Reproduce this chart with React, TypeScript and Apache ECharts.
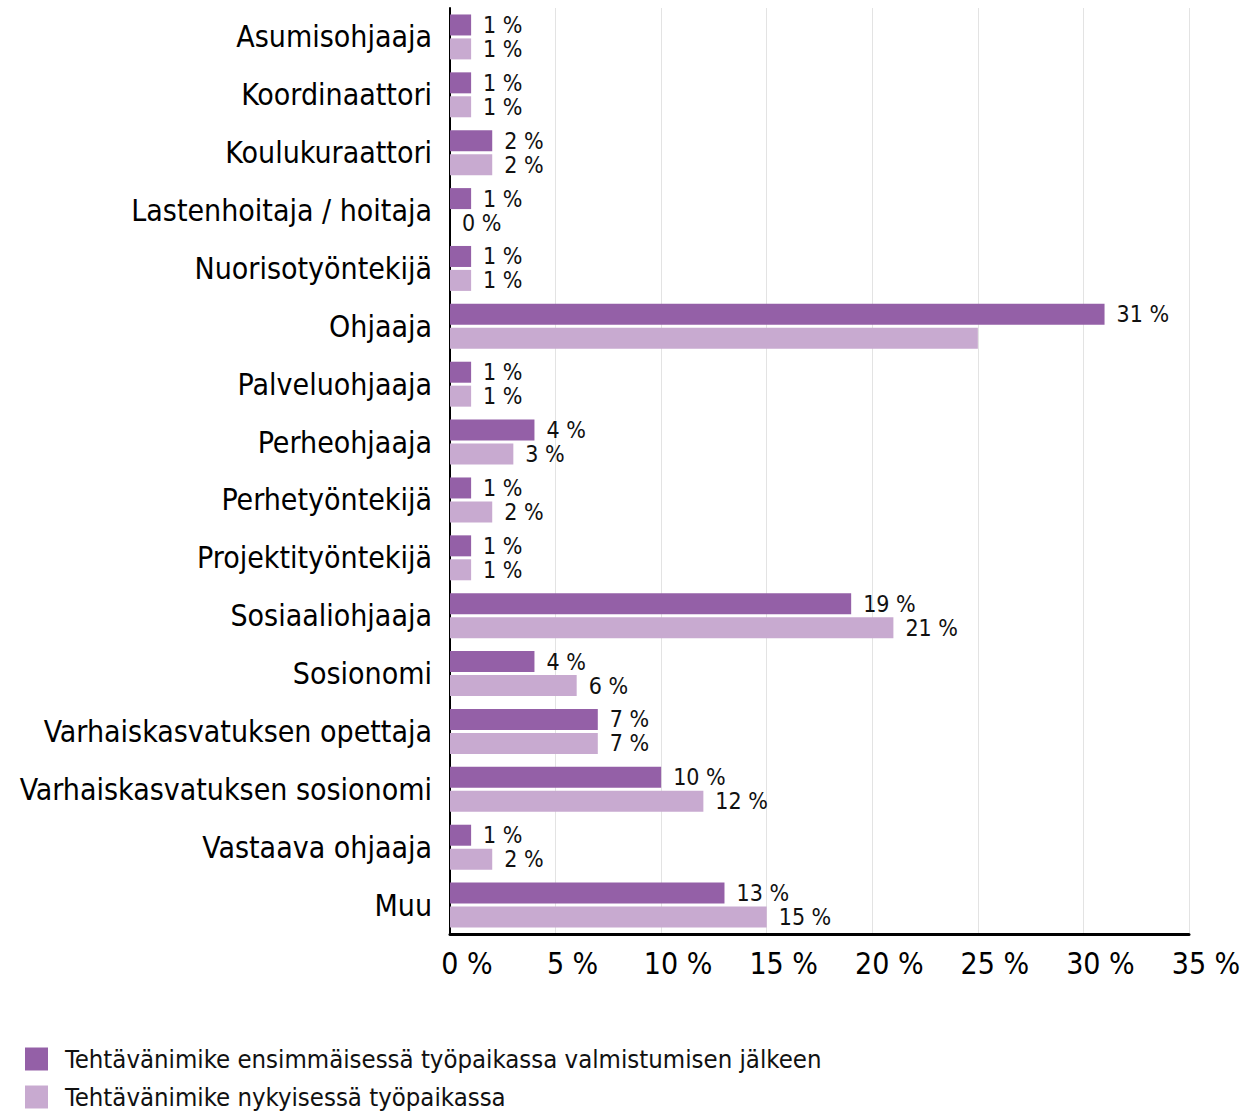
import React, { useEffect, useRef } from "react";
import * as echarts from "echarts";

const categories = [
  "Asumisohjaaja",
  "Koordinaattori",
  "Koulukuraattori",
  "Lastenhoitaja / hoitaja",
  "Nuorisotyöntekijä",
  "Ohjaaja",
  "Palveluohjaaja",
  "Perheohjaaja",
  "Perhetyöntekijä",
  "Projektityöntekijä",
  "Sosiaaliohjaaja",
  "Sosionomi",
  "Varhaiskasvatuksen opettaja",
  "Varhaiskasvatuksen sosionomi",
  "Vastaava ohjaaja",
  "Muu",
];
const seriesNames = [
  "Tehtävänimike ensimmäisessä työpaikassa valmistumisen jälkeen",
  "Tehtävänimike nykyisessä työpaikassa",
];
const firstJob = [1, 1, 2, 1, 1, 31, 1, 4, 1, 1, 19, 4, 7, 10, 1, 13];
const currentJob = [1, 1, 2, 0, 1, 25, 1, 3, 2, 1, 21, 6, 7, 12, 2, 15];
const hiddenLabelsCurrent = ["Ohjaaja"];
const xTicks = { min: 0, max: 35, interval: 5 };

const FONT = "'DejaVu Sans Condensed', 'Noto Sans', 'DejaVu Sans', sans-serif";

export default function App() {
  const ref = useRef<HTMLDivElement>(null);
  useEffect(() => {
    document.body.style.margin = "0";
    const chart = echarts.init(ref.current!, null, { renderer: "svg" });
    const valueLabel = {
      show: true,
      position: "right",
      distance: 12,
      color: "#111",
      fontSize: 23,
      fontFamily: FONT,
      formatter: (p: any) => `${p.value} %`,
    };
    const legendBase = {
      orient: "vertical",
      left: 25,
      padding: 0,
      icon: "rect",
      itemWidth: 23,
      itemHeight: 23,
      textStyle: { fontSize: 25.5, color: "#111", fontFamily: FONT, padding: [0, 0, 0, 12] },
    };
    chart.setOption({
      animation: false,
      textStyle: { fontFamily: FONT },
      grid: { left: 450, right: 69, top: 8, bottom: 179, containLabel: false },
      legend: [
        { ...legendBase, top: 1046, data: [seriesNames[0]] },
        { ...legendBase, top: 1084, data: [seriesNames[1]] },
      ],
      xAxis: {
        type: "value",
        min: xTicks.min,
        max: xTicks.max,
        interval: xTicks.interval,
        axisLine: { show: true, lineStyle: { color: "#000", width: 3 } },
        axisTick: { show: false },
        splitLine: { show: true, lineStyle: { color: "#e3e3e3", width: 1 } },
        axisLabel: {
          fontSize: 30,
          color: "#000",
          margin: 14,
          padding: [0, 0, 0, 34],
          fontFamily: FONT,
          formatter: (v: number) => `${v} %`,
        },
      },
      yAxis: {
        type: "category",
        inverse: true,
        data: categories,
        axisLine: { show: true, lineStyle: { color: "#000", width: 2 } },
        axisTick: { show: false },
        axisLabel: {
          fontSize: 30,
          color: "#000",
          margin: 18,
          padding: [8, 0, 0, 0],
          fontFamily: FONT,
        },
      },
      series: [
        {
          name: seriesNames[0],
          type: "bar",
          data: firstJob,
          barWidth: 21,
          barGap: "14%",
          itemStyle: { color: "#9460a7" },
          label: valueLabel,
        },
        {
          name: seriesNames[1],
          type: "bar",
          data: currentJob.map((v, i) =>
            hiddenLabelsCurrent.includes(categories[i])
              ? { value: v, label: { show: false } }
              : v
          ),
          barWidth: 21,
          itemStyle: { color: "#c8aad0" },
          label: valueLabel,
        },
      ],
    });
    return () => chart.dispose();
  }, []);
  return <div ref={ref} style={{ width: 1258, height: 1113 }} />;
}
